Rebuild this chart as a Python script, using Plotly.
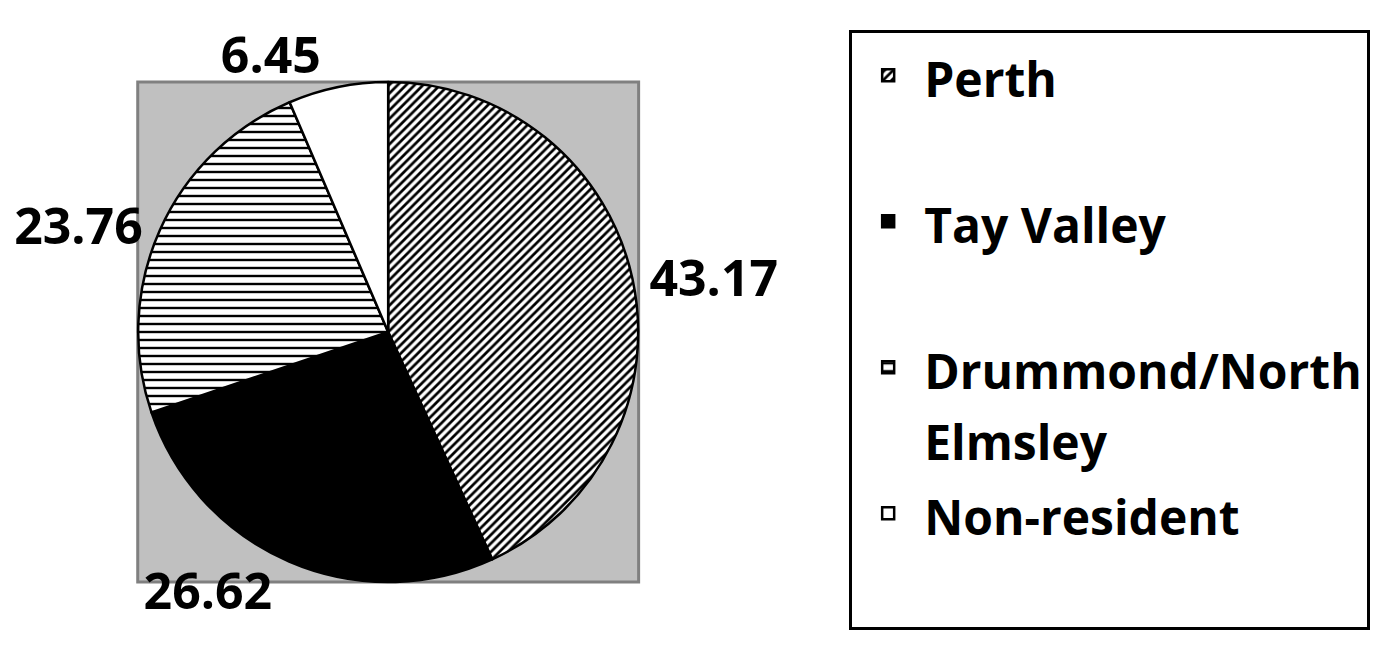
import plotly.graph_objects as go

labels = ["Perth", "Tay Valley", "Drummond/North<br>Elmsley", "Non-resident"]
values = [43.17, 26.62, 23.76, 6.45]
colors = ["white", "black", "white", "white"]
patterns = ["/", "", "-", ""]

W, H = 1379, 649
OFF = 8  # page body margin
def px(x):
    return (x - OFF) / W
def py(y):
    return 1 - (y - OFF) / H

x0, x1 = px(135), px(637)
y0, y1 = py(582), py(82)

# legend text: glyphs at 48px, line spacing driven by the 55px legend font
def legend_label(lbl):
    lines = lbl.split("<br>")
    wrapped = ["<span style='font-size:48px'>" + l + "</span>" for l in lines]
    if len(wrapped) < 2:
        wrapped.append(" ")
    return "<br>".join(wrapped)

display_labels = [legend_label(l) for l in labels]

fig = go.Figure()
fig.add_trace(go.Pie(
    labels=display_labels,
    values=values,
    sort=False,
    direction="clockwise",
    rotation=0,
    domain=dict(x=[x0, x1], y=[y0, y1]),
    marker=dict(
        colors=colors,
        line=dict(color="black", width=2.5),
        pattern=dict(shape=patterns, fgcolor="black", bgcolor="white",
                     size=[6, 8, 8, 8], solidity=[0.45, 0.3, 0.3, 0.3]),
    ),
    textinfo="value",
    textposition="outside",
    outsidetextfont=dict(family="Open Sans", size=50, color="black", weight="bold"),
    hoverinfo="value",
))

fig.add_shape(type="rect", xref="paper", yref="paper",
              x0=x0, x1=x1, y0=y0, y1=y1,
              fillcolor="#C0C0C0", line=dict(color="#808080", width=3),
              layer="below")

fig.update_layout(
    width=W, height=H,
    margin=dict(l=0, r=0, t=0, b=0),
    paper_bgcolor="white",
    plot_bgcolor="white",
    showlegend=True,
    legend=dict(
        x=px(848), y=py(30), xanchor="left", yanchor="top",
        bordercolor="black", borderwidth=3,
        font=dict(family="Open Sans", size=55, color="black", weight="bold"),
        valign="top",
        itemwidth=62,
        entrywidth=600, entrywidthmode="pixels",
    ),
)

fig.write_html("out.html")
